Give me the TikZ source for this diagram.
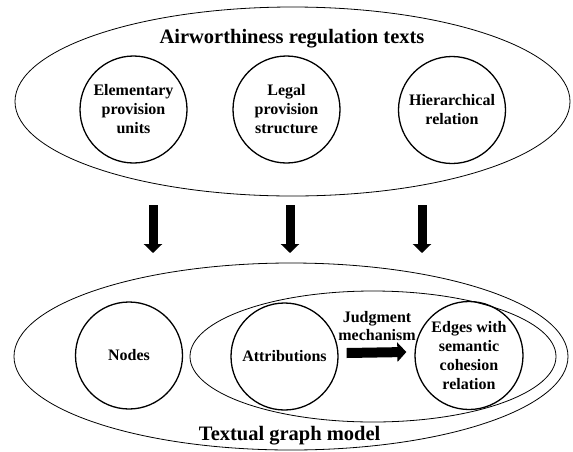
\documentclass[tikz,border=0pt]{standalone}
\usepackage{fontspec}
\setmainfont{Liberation Serif}
\usetikzlibrary{shapes.geometric,arrows.meta}
\begin{document}
\begin{tikzpicture}[x=1pt,y=-1pt,
  bigell/.style={draw, ellipse, line width=0.8pt, inner sep=0pt},
  circ/.style={draw, circle, line width=1.3pt, inner sep=0pt, minimum size=107pt,
    align=center, font=\fontsize{16}{19}\selectfont\bfseries},
  titletxt/.style={anchor=base, inner sep=0pt, font=\fontsize{20.5}{24}\selectfont\bfseries},
  labeltxt/.style={inner sep=0pt, align=center, font=\fontsize{16}{18.5}\selectfont\bfseries},
  bigarrow/.style={line width=9pt, -{Triangle[width=18pt,length=9pt]}},
  midarrow/.style={line width=10pt, -{Triangle[width=19pt,length=9pt]}}
]
\useasboundingbox (0,0) rectangle (573,451);
% ellipses
\node[bigell, minimum width=555pt, minimum height=189pt] (topell) at (292.5,101.5) {};
\node[bigell, minimum width=554pt, minimum height=187pt] (botell) at (291,356.5) {};
\node[bigell, minimum width=366pt, minimum height=131pt] (innell) at (373,356.5) {};
% titles
\node[titletxt] (ttop) at (292,43.3) {Airworthiness regulation texts};
\node[titletxt] (tbot) at (289.7,440.7) {Textual graph model};
% top circles
\node[circ] (elem) at (133.5,109.5) {Elementary\\provision\\units};
\node[circ] (legal) at (286.5,109.5) {Legal\\provision\\structure};
\node[circ] (hier) at (452,110) {Hierarchical\\relation};
% bottom circles
\node[circ] (nodesC) at (129,355.5) {Nodes};
\node[circ] (attr) at (284.5,356.5) {Attributions};
\node[circ, minimum size=108pt] (edge) at (469,355.5) {Edges with\\semantic\\cohesion\\relation};
% down arrows
\coordinate (a1s) at (153,205); \coordinate (a1e) at (153,253);
\coordinate (a2s) at (290,205); \coordinate (a2e) at (290,253);
\coordinate (a3s) at (422,205); \coordinate (a3e) at (422,253);
\draw[bigarrow] (a1s) -- (a1e);
\draw[bigarrow] (a2s) -- (a2e);
\draw[bigarrow] (a3s) -- (a3e);
% judgment arrow
\draw[midarrow] ([shift={(8pt,3.5pt)}]attr.east) -- ([shift={(-8pt,3.5pt)}]edge.west);
\node[labeltxt] (judg) at (377,326) {Judgment\\mechanism};
\end{tikzpicture}
\end{document}
